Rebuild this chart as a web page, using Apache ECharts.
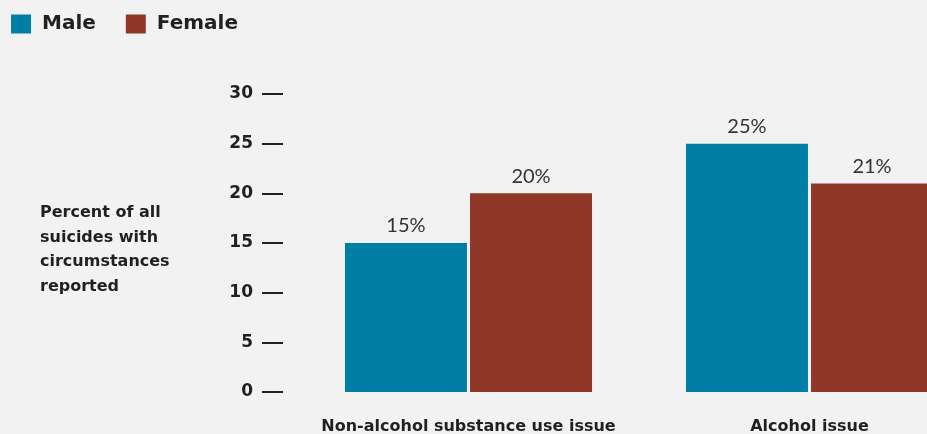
<!DOCTYPE html>
<html><head><meta charset="utf-8">
<script src="https://cdn.jsdelivr.net/npm/echarts@6/dist/echarts.min.js"></script>
<style>html,body{margin:0;padding:0;background:#f2f2f2;}#c{width:927px;height:434px;}</style>
</head><body><div id="c"></div>
<script>
const categories = ['Non-alcohol substance use issue', 'Alcohol issue'];
const male = [15, 25];
const female = [20, 21];
const yTicks = [0, 5, 10, 15, 20, 25, 30];
const yTitle = 'Percent of all\nsuicides with\ncircumstances\nreported';

const BOLD = 'DejaVu Sans';
const LIGHT = 'Lato';
const chart = echarts.init(document.getElementById('c'));
chart.setOption({
  backgroundColor: '#f2f2f2',
  animation: false,
  legend: {
    left: 6, top: 9, itemWidth: 20, itemHeight: 19, itemGap: 30,
    icon: 'rect',
    textStyle: { fontFamily: BOLD, fontWeight: 'bold', fontSize: 20, color: '#231f20', padding: [0, 0, 0, 6] },
    data: ['Male', 'Female']
  },
  grid: { left: 298, width: 682, top: 94, bottom: 42, outerBoundsMode: 'none', containLabel: false },
  xAxis: {
    type: 'category', data: categories,
    axisLine: { show: false }, axisTick: { show: false },
    axisLabel: { interval: 0, hideOverlap: false, margin: 27, fontFamily: BOLD, fontWeight: 'bold', fontSize: 16, color: '#231f20' }
  },
  yAxis: {
    type: 'value', min: yTicks[0], max: yTicks[yTicks.length - 1], interval: 5,
    offset: 15,
    splitLine: { show: false }, axisLine: { show: false },
    axisTick: { show: true, length: 21, lineStyle: { color: '#231f20', width: 2 } },
    axisLabel: { margin: 30, fontFamily: BOLD, fontWeight: 'bold', fontSize: 17, color: '#231f20' }
  },
  graphic: [{
    type: 'text', left: 40, top: 201,
    style: { text: yTitle, font: 'bold 16px ' + BOLD, fill: '#231f20', lineHeight: 24.5 }
  }],
  series: [
    { name: 'Male', type: 'bar', data: male, barWidth: 122, barGap: '2.5%',
      itemStyle: { color: '#007fa6' },
      label: { show: true, position: 'top', distance: 7, formatter: '{c}%', fontFamily: LIGHT, fontSize: 20, color: '#333' } },
    { name: 'Female', type: 'bar', data: female, barWidth: 122,
      itemStyle: { color: '#8f3728' },
      label: { show: true, position: 'top', distance: 7, formatter: '{c}%', fontFamily: LIGHT, fontSize: 20, color: '#333' } }
  ]
});
</script></body></html>
